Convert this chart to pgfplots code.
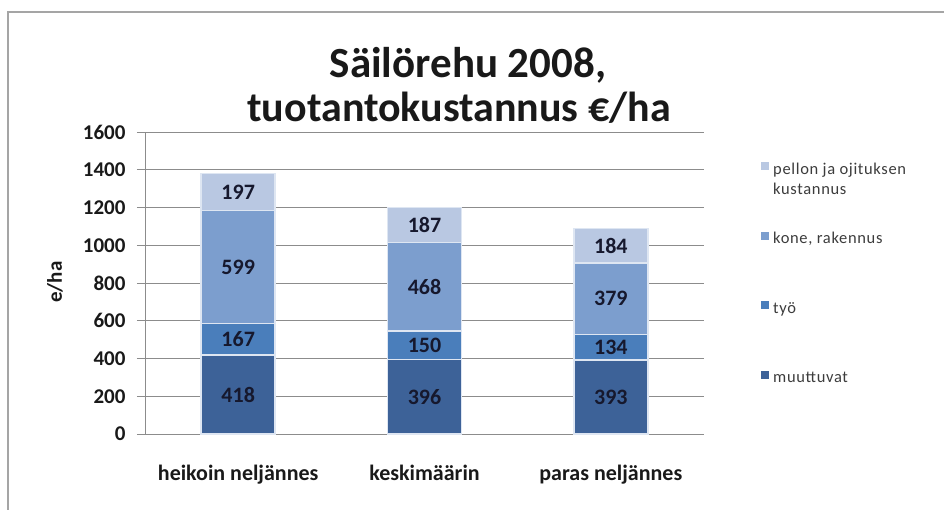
\documentclass[border=0pt]{standalone}
\usepackage{fontspec}
\setmainfont{Carlito}
\usepackage{pgfplots}
\pgfplotsset{compat=1.18}
\usepackage{pgfplotstable}

\definecolor{cmuut}{RGB}{61,98,152}
\definecolor{ctyo}{RGB}{74,126,187}
\definecolor{ckone}{RGB}{124,158,206}
\definecolor{cpell}{RGB}{185,200,226}
\definecolor{gridc}{RGB}{140,140,140}
\definecolor{txt}{RGB}{25,25,25}
\definecolor{lbltxt}{RGB}{22,24,45}
\definecolor{legtxt}{RGB}{60,60,60}
\definecolor{framec}{RGB}{165,165,165}
\definecolor{segline}{RGB}{222,230,242}

\pgfplotstableread{
x muut tyo kone pellon
0 418 167 599 197
1 396 150 468 187
2 393 134 379 184
}\data

\pgfplotsset{sq legend/.style={legend image code/.code={\path[##1,draw=none] (0pt,0pt) rectangle (8pt,8pt);}}}

\begin{document}
\begin{tikzpicture}[x=1pt,y=1pt]
\useasboundingbox (0,0) rectangle (944,509);
\draw[framec, line width=1.6pt] (8,-10) -- (8,497) -- (960,497);
\node[anchor=base, font=\fontsize{43}{44}\selectfont\bfseries, text=txt, inner sep=0pt] at (468,431) {Säilörehu 2008,};
\node[anchor=base, font=\fontsize{42}{44}\selectfont\bfseries, text=txt, inner sep=0pt] at (459,387) {tuotantokustannus €/ha};
\begin{axis}[
  at={(145pt,75pt)}, anchor=south west,
  scale only axis, width=559pt, height=302pt,
  xmin=-0.5, xmax=2.5, ymin=0, ymax=1600,
  ytick={0,200,...,1600},
  xtick={0,1,2},
  xticklabels={heikoin neljännes, keskimäärin, paras neljännes},
  extra x ticks={-0.5,0.5,1.5,2.5},
  extra x tick labels={},
  extra x tick style={major tick length=8pt, tick style={draw=gridc, line width=0.8pt}, grid=none},
  major x tick style={draw=none},
  ybar stacked, bar width=74pt,
  axis x line*=bottom, axis y line*=left,
  axis line style={gridc, line width=0.8pt},
  ytick style={draw=gridc, line width=0.8pt},
  tick align=outside, major tick length=8pt,
  ymajorgrids, grid style={gridc, line width=0.8pt},
  /pgf/number format/assume math mode=true,
  /pgf/number format/1000 sep={},
  yticklabel style={font=\fontsize{21}{21}\selectfont\bfseries, text=txt, xshift=-8pt},
  xticklabel style={font=\fontsize{22}{22}\selectfont\bfseries, text=txt, anchor=north, inner sep=0pt, text height=15pt, text depth=5pt, yshift=-23pt},
  ylabel={e/ha},
  ylabel style={font=\fontsize{21}{21}\selectfont\bfseries, text=txt, at={(axis description cs:-0.161,0.503)}, anchor=center},
  legend style={at={(1.0966,0.907)}, anchor=north west, draw=none, fill=none,
     row sep=53.5pt, column sep=4pt,
     nodes={inner sep=0pt, text height=12pt, text depth=4pt, font=\fontsize{16.5}{20}\selectfont\addfontfeature{LetterSpace=4}, text=legtxt}},
  legend cell align=left,
  reverse legend,
  nodes near coords,
  point meta=explicit,
  nodes near coords align={center},
  nodes near coords style={font=\fontsize{22}{22}\selectfont\bfseries, text=lbltxt},
]
\addplot[fill=cmuut, draw=segline, line width=1.5pt, sq legend] table[x=x, y=muut, meta=muut] {\data};
\addlegendentry{muuttuvat}
\addplot[fill=ctyo, draw=segline, line width=1.5pt, sq legend] table[x=x, y=tyo, meta=tyo] {\data};
\addlegendentry{työ}
\addplot[fill=ckone, draw=segline, line width=1.5pt, sq legend] table[x=x, y=kone, meta=kone] {\data};
\addlegendentry{kone, rakennus}
\addplot[fill=cpell, draw=segline, line width=1.5pt, sq legend] table[x=x, y=pellon, meta=pellon] {\data};
\addlegendentry{\parbox[t]{170pt}{pellon ja ojituksen\\kustannus}}
\end{axis}
\end{tikzpicture}
\end{document}
